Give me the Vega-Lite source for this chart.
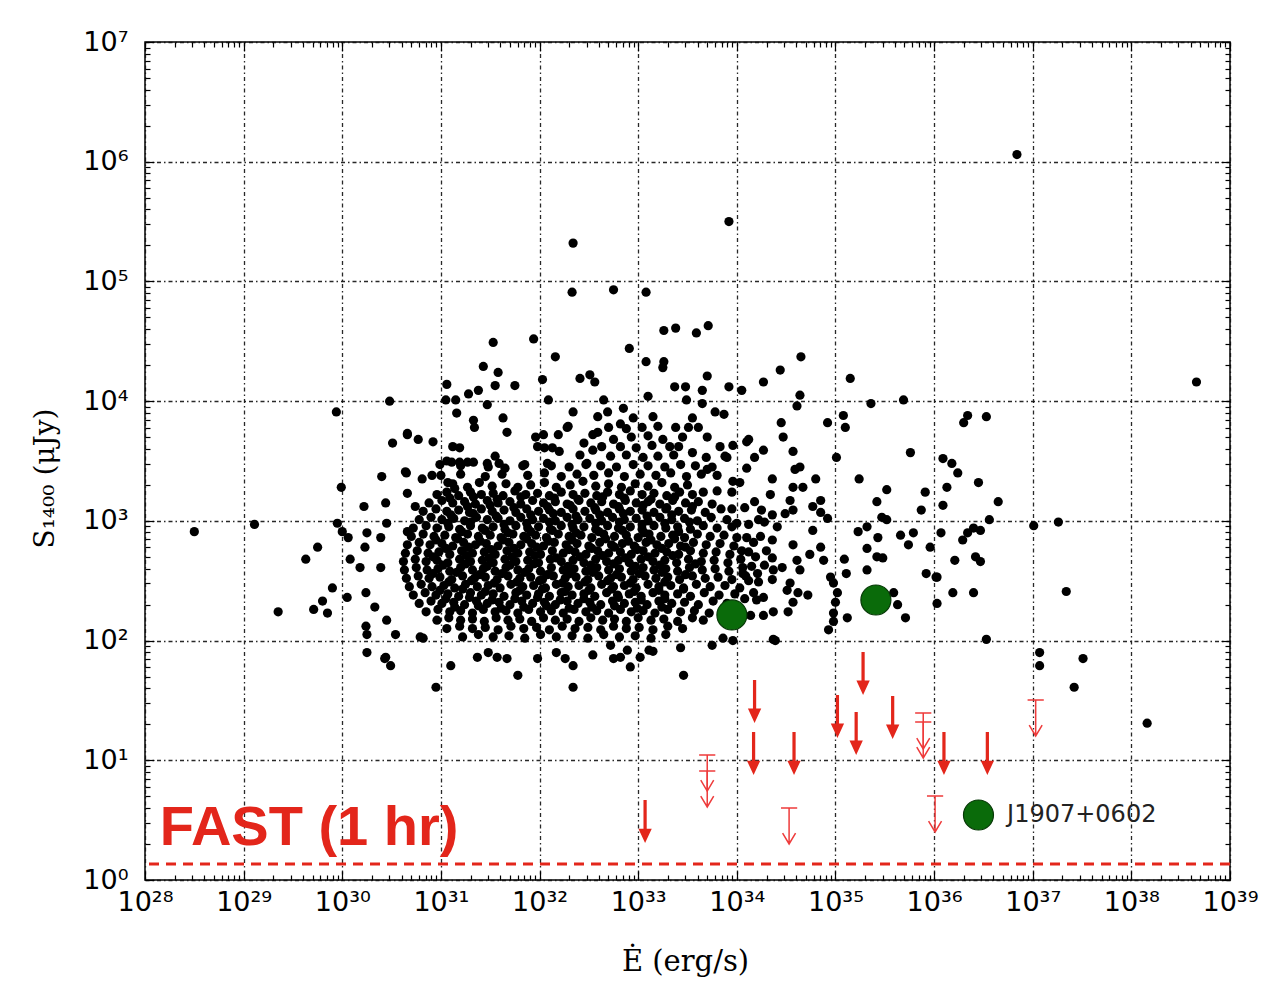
{
"$schema":"https://vega.github.io/schema/vega-lite/v6.json",
"width":1085,"height":838,
"autosize":{"type":"none"},
"padding":{"left":145,"top":42,"right":58,"bottom":108},
"background":"#ffffff",
"config":{"view":{"stroke":"#000000","strokeWidth":1.5},"axis":{"domain":false,"tickColor":"#000000","tickWidth":1.2}},
"datasets":{
"pulsars":[
{"E":31.12,"S":3.31},{"E":31.27,"S":3.28},{"E":31.39,"S":3.32},{"E":31.52,"S":3.29},{"E":31.66,"S":3.31},{"E":31.78,"S":3.28},{"E":31.91,"S":3.30},{"E":32.05,"S":3.32},{"E":32.17,"S":3.28},{"E":32.31,"S":3.30},{"E":32.44,"S":3.33},{"E":32.57,"S":3.29},{"E":32.70,"S":3.31},{"E":32.83,"S":3.28},{"E":32.97,"S":3.31},{"E":33.10,"S":3.29},{"E":33.24,"S":3.32},{"E":33.37,"S":3.28},{"E":33.50,"S":3.30},
{"E":30.96,"S":3.22},{"E":31.06,"S":3.24},{"E":31.18,"S":3.21},{"E":31.30,"S":3.24},{"E":31.41,"S":3.22},{"E":31.53,"S":3.23},{"E":31.63,"S":3.21},{"E":31.75,"S":3.25},{"E":31.86,"S":3.22},{"E":31.98,"S":3.23},{"E":32.10,"S":3.21},{"E":32.22,"S":3.24},{"E":32.34,"S":3.22},{"E":32.46,"S":3.23},{"E":32.58,"S":3.21},{"E":32.69,"S":3.24},{"E":32.81,"S":3.22},{"E":32.92,"S":3.25},{"E":33.04,"S":3.22},{"E":33.16,"S":3.23},{"E":33.29,"S":3.21},{"E":33.42,"S":3.24},{"E":33.55,"S":3.22},{"E":33.66,"S":3.24},
{"E":30.88,"S":3.15},{"E":31.01,"S":3.17},{"E":31.12,"S":3.15},{"E":31.24,"S":3.16},{"E":31.35,"S":3.14},{"E":31.47,"S":3.17},{"E":31.58,"S":3.15},{"E":31.70,"S":3.16},{"E":31.81,"S":3.14},{"E":31.93,"S":3.17},{"E":32.04,"S":3.15},{"E":32.16,"S":3.16},{"E":32.28,"S":3.14},{"E":32.40,"S":3.17},{"E":32.52,"S":3.15},{"E":32.63,"S":3.16},{"E":32.75,"S":3.14},{"E":32.87,"S":3.17},{"E":32.98,"S":3.15},{"E":33.10,"S":3.16},{"E":33.22,"S":3.14},{"E":33.35,"S":3.17},{"E":33.48,"S":3.15},{"E":33.61,"S":3.16},{"E":33.75,"S":3.14},
{"E":30.82,"S":3.08},{"E":30.95,"S":3.10},{"E":31.06,"S":3.08},{"E":31.18,"S":3.09},{"E":31.29,"S":3.07},{"E":31.41,"S":3.10},{"E":31.52,"S":3.08},{"E":31.64,"S":3.09},{"E":31.76,"S":3.07},{"E":31.87,"S":3.10},{"E":31.99,"S":3.08},{"E":32.10,"S":3.09},{"E":32.22,"S":3.07},{"E":32.34,"S":3.10},{"E":32.46,"S":3.08},{"E":32.57,"S":3.09},{"E":32.69,"S":3.07},{"E":32.81,"S":3.10},{"E":32.92,"S":3.08},{"E":33.04,"S":3.09},{"E":33.16,"S":3.07},{"E":33.28,"S":3.10},{"E":33.41,"S":3.08},{"E":33.54,"S":3.09},{"E":33.68,"S":3.07},{"E":33.84,"S":3.10},
{"E":30.78,"S":3.01},{"E":30.90,"S":3.03},{"E":31.01,"S":3.01},{"E":31.13,"S":3.02},{"E":31.24,"S":3.00},{"E":31.36,"S":3.03},{"E":31.47,"S":3.01},{"E":31.58,"S":3.02},{"E":31.70,"S":3.00},{"E":31.81,"S":3.03},{"E":31.93,"S":3.01},{"E":32.04,"S":3.02},{"E":32.16,"S":3.00},{"E":32.28,"S":3.03},{"E":32.39,"S":3.01},{"E":32.51,"S":3.02},{"E":32.63,"S":3.00},{"E":32.74,"S":3.03},{"E":32.86,"S":3.01},{"E":32.98,"S":3.02},{"E":33.10,"S":3.00},{"E":33.22,"S":3.03},{"E":33.34,"S":3.01},{"E":33.47,"S":3.02},{"E":33.60,"S":3.00},{"E":33.74,"S":3.03},{"E":33.90,"S":3.01},
{"E":30.72,"S":2.94},{"E":30.85,"S":2.96},{"E":30.96,"S":2.94},{"E":31.08,"S":2.95},{"E":31.19,"S":2.93},{"E":31.30,"S":2.96},{"E":31.42,"S":2.94},{"E":31.53,"S":2.95},{"E":31.65,"S":2.93},{"E":31.76,"S":2.96},{"E":31.88,"S":2.94},{"E":31.99,"S":2.95},{"E":32.11,"S":2.93},{"E":32.22,"S":2.96},{"E":32.34,"S":2.94},{"E":32.45,"S":2.95},{"E":32.57,"S":2.93},{"E":32.69,"S":2.96},{"E":32.80,"S":2.94},{"E":32.92,"S":2.95},{"E":33.04,"S":2.93},{"E":33.16,"S":2.96},{"E":33.28,"S":2.94},{"E":33.40,"S":2.95},{"E":33.53,"S":2.93},{"E":33.66,"S":2.96},{"E":33.80,"S":2.94},{"E":33.95,"S":2.95},
{"E":30.70,"S":2.87},{"E":30.82,"S":2.89},{"E":30.93,"S":2.87},{"E":31.04,"S":2.88},{"E":31.15,"S":2.86},{"E":31.27,"S":2.89},{"E":31.38,"S":2.87},{"E":31.50,"S":2.88},{"E":31.61,"S":2.86},{"E":31.73,"S":2.89},{"E":31.84,"S":2.87},{"E":31.96,"S":2.88},{"E":32.07,"S":2.86},{"E":32.19,"S":2.89},{"E":32.30,"S":2.87},{"E":32.42,"S":2.88},{"E":32.53,"S":2.86},{"E":32.65,"S":2.89},{"E":32.76,"S":2.87},{"E":32.88,"S":2.88},{"E":33.00,"S":2.86},{"E":33.11,"S":2.89},{"E":33.23,"S":2.87},{"E":33.35,"S":2.88},{"E":33.47,"S":2.86},{"E":33.60,"S":2.89},{"E":33.73,"S":2.87},{"E":33.87,"S":2.88},{"E":34.00,"S":2.86},
{"E":30.66,"S":2.80},{"E":30.78,"S":2.82},{"E":30.89,"S":2.80},{"E":31.01,"S":2.81},{"E":31.12,"S":2.79},{"E":31.23,"S":2.82},{"E":31.35,"S":2.80},{"E":31.46,"S":2.81},{"E":31.58,"S":2.79},{"E":31.69,"S":2.82},{"E":31.81,"S":2.80},{"E":31.92,"S":2.81},{"E":32.04,"S":2.79},{"E":32.15,"S":2.82},{"E":32.27,"S":2.80},{"E":32.38,"S":2.81},{"E":32.50,"S":2.79},{"E":32.61,"S":2.82},{"E":32.73,"S":2.80},{"E":32.84,"S":2.81},{"E":32.96,"S":2.79},{"E":33.08,"S":2.82},{"E":33.19,"S":2.80},{"E":33.31,"S":2.81},{"E":33.43,"S":2.79},{"E":33.56,"S":2.82},{"E":33.69,"S":2.80},{"E":33.83,"S":2.81},{"E":33.97,"S":2.79},
{"E":30.64,"S":2.73},{"E":30.76,"S":2.75},{"E":30.87,"S":2.73},{"E":30.98,"S":2.74},{"E":31.09,"S":2.72},{"E":31.21,"S":2.75},{"E":31.32,"S":2.73},{"E":31.44,"S":2.74},{"E":31.55,"S":2.72},{"E":31.67,"S":2.75},{"E":31.78,"S":2.73},{"E":31.90,"S":2.74},{"E":32.01,"S":2.72},{"E":32.13,"S":2.75},{"E":32.24,"S":2.73},{"E":32.36,"S":2.74},{"E":32.47,"S":2.72},{"E":32.59,"S":2.75},{"E":32.70,"S":2.73},{"E":32.82,"S":2.74},{"E":32.93,"S":2.72},{"E":33.05,"S":2.75},{"E":33.17,"S":2.73},{"E":33.29,"S":2.74},{"E":33.41,"S":2.72},{"E":33.53,"S":2.75},{"E":33.66,"S":2.73},{"E":33.79,"S":2.74},{"E":33.93,"S":2.72},{"E":34.05,"S":2.75},
{"E":30.62,"S":2.66},{"E":30.74,"S":2.68},{"E":30.85,"S":2.66},{"E":30.96,"S":2.67},{"E":31.07,"S":2.65},{"E":31.19,"S":2.68},{"E":31.30,"S":2.66},{"E":31.42,"S":2.67},{"E":31.53,"S":2.65},{"E":31.65,"S":2.68},{"E":31.76,"S":2.66},{"E":31.88,"S":2.67},{"E":31.99,"S":2.65},{"E":32.11,"S":2.68},{"E":32.22,"S":2.66},{"E":32.34,"S":2.67},{"E":32.45,"S":2.65},{"E":32.57,"S":2.68},{"E":32.68,"S":2.66},{"E":32.80,"S":2.67},{"E":32.91,"S":2.65},{"E":33.03,"S":2.68},{"E":33.15,"S":2.66},{"E":33.27,"S":2.67},{"E":33.39,"S":2.65},{"E":33.51,"S":2.68},{"E":33.64,"S":2.66},{"E":33.77,"S":2.67},{"E":33.91,"S":2.65},{"E":34.04,"S":2.68},
{"E":30.63,"S":2.59},{"E":30.75,"S":2.61},{"E":30.86,"S":2.59},{"E":30.97,"S":2.60},{"E":31.09,"S":2.58},{"E":31.20,"S":2.61},{"E":31.32,"S":2.59},{"E":31.43,"S":2.60},{"E":31.55,"S":2.58},{"E":31.66,"S":2.61},{"E":31.78,"S":2.59},{"E":31.89,"S":2.60},{"E":32.01,"S":2.58},{"E":32.12,"S":2.61},{"E":32.24,"S":2.59},{"E":32.35,"S":2.60},{"E":32.47,"S":2.58},{"E":32.58,"S":2.61},{"E":32.70,"S":2.59},{"E":32.81,"S":2.60},{"E":32.93,"S":2.58},{"E":33.05,"S":2.61},{"E":33.16,"S":2.59},{"E":33.28,"S":2.60},{"E":33.40,"S":2.58},{"E":33.52,"S":2.61},{"E":33.65,"S":2.59},{"E":33.78,"S":2.60},{"E":33.92,"S":2.58},{"E":34.06,"S":2.61},
{"E":30.65,"S":2.52},{"E":30.77,"S":2.54},{"E":30.88,"S":2.52},{"E":30.99,"S":2.53},{"E":31.11,"S":2.51},{"E":31.22,"S":2.54},{"E":31.34,"S":2.52},{"E":31.45,"S":2.53},{"E":31.57,"S":2.51},{"E":31.68,"S":2.54},{"E":31.80,"S":2.52},{"E":31.91,"S":2.53},{"E":32.03,"S":2.51},{"E":32.14,"S":2.54},{"E":32.26,"S":2.52},{"E":32.37,"S":2.53},{"E":32.49,"S":2.51},{"E":32.60,"S":2.54},{"E":32.72,"S":2.52},{"E":32.83,"S":2.53},{"E":32.95,"S":2.51},{"E":33.07,"S":2.54},{"E":33.18,"S":2.52},{"E":33.30,"S":2.53},{"E":33.42,"S":2.51},{"E":33.55,"S":2.54},{"E":33.68,"S":2.52},{"E":33.81,"S":2.53},{"E":33.95,"S":2.51},{"E":34.09,"S":2.54},
{"E":30.68,"S":2.45},{"E":30.80,"S":2.47},{"E":30.91,"S":2.45},{"E":31.03,"S":2.46},{"E":31.14,"S":2.44},{"E":31.25,"S":2.47},{"E":31.37,"S":2.45},{"E":31.48,"S":2.46},{"E":31.60,"S":2.44},{"E":31.71,"S":2.47},{"E":31.83,"S":2.45},{"E":31.94,"S":2.46},{"E":32.06,"S":2.44},{"E":32.17,"S":2.47},{"E":32.29,"S":2.45},{"E":32.40,"S":2.46},{"E":32.52,"S":2.44},{"E":32.63,"S":2.47},{"E":32.75,"S":2.45},{"E":32.86,"S":2.46},{"E":32.98,"S":2.44},{"E":33.10,"S":2.47},{"E":33.21,"S":2.45},{"E":33.33,"S":2.46},{"E":33.46,"S":2.44},{"E":33.59,"S":2.47},{"E":33.73,"S":2.45},{"E":33.88,"S":2.46},{"E":34.03,"S":2.44},
{"E":30.72,"S":2.38},{"E":30.84,"S":2.40},{"E":30.95,"S":2.38},{"E":31.07,"S":2.39},{"E":31.18,"S":2.37},{"E":31.30,"S":2.40},{"E":31.41,"S":2.38},{"E":31.53,"S":2.39},{"E":31.64,"S":2.37},{"E":31.76,"S":2.40},{"E":31.87,"S":2.38},{"E":31.99,"S":2.39},{"E":32.10,"S":2.37},{"E":32.22,"S":2.40},{"E":32.33,"S":2.38},{"E":32.45,"S":2.39},{"E":32.56,"S":2.37},{"E":32.68,"S":2.40},{"E":32.79,"S":2.38},{"E":32.91,"S":2.39},{"E":33.03,"S":2.37},{"E":33.15,"S":2.40},{"E":33.27,"S":2.38},{"E":33.40,"S":2.39},{"E":33.53,"S":2.37},{"E":33.67,"S":2.40},{"E":33.82,"S":2.38},{"E":33.98,"S":2.39},
{"E":30.78,"S":2.31},{"E":30.90,"S":2.33},{"E":31.01,"S":2.31},{"E":31.13,"S":2.32},{"E":31.24,"S":2.30},{"E":31.36,"S":2.33},{"E":31.47,"S":2.31},{"E":31.59,"S":2.32},{"E":31.70,"S":2.30},{"E":31.82,"S":2.33},{"E":31.93,"S":2.31},{"E":32.05,"S":2.32},{"E":32.16,"S":2.30},{"E":32.28,"S":2.33},{"E":32.39,"S":2.31},{"E":32.51,"S":2.32},{"E":32.62,"S":2.30},{"E":32.74,"S":2.33},{"E":32.86,"S":2.31},{"E":32.97,"S":2.32},{"E":33.09,"S":2.30},{"E":33.21,"S":2.33},{"E":33.34,"S":2.31},{"E":33.47,"S":2.32},{"E":33.61,"S":2.30},{"E":33.76,"S":2.33},{"E":33.90,"S":2.31},
{"E":30.85,"S":2.24},{"E":30.97,"S":2.26},{"E":31.09,"S":2.24},{"E":31.20,"S":2.25},{"E":31.32,"S":2.23},{"E":31.43,"S":2.26},{"E":31.55,"S":2.24},{"E":31.66,"S":2.25},{"E":31.78,"S":2.23},{"E":31.89,"S":2.26},{"E":32.01,"S":2.24},{"E":32.12,"S":2.25},{"E":32.24,"S":2.23},{"E":32.35,"S":2.26},{"E":32.47,"S":2.24},{"E":32.58,"S":2.25},{"E":32.70,"S":2.23},{"E":32.82,"S":2.26},{"E":32.93,"S":2.24},{"E":33.05,"S":2.25},{"E":33.17,"S":2.23},{"E":33.30,"S":2.26},{"E":33.43,"S":2.24},{"E":33.57,"S":2.25},{"E":33.72,"S":2.23},
{"E":30.96,"S":2.17},{"E":31.08,"S":2.19},{"E":31.20,"S":2.17},{"E":31.32,"S":2.18},{"E":31.44,"S":2.16},{"E":31.56,"S":2.19},{"E":31.68,"S":2.17},{"E":31.80,"S":2.18},{"E":31.92,"S":2.16},{"E":32.04,"S":2.19},{"E":32.16,"S":2.17},{"E":32.28,"S":2.18},{"E":32.40,"S":2.16},{"E":32.52,"S":2.19},{"E":32.64,"S":2.17},{"E":32.76,"S":2.18},{"E":32.88,"S":2.16},{"E":33.00,"S":2.19},{"E":33.13,"S":2.17},{"E":33.26,"S":2.18},{"E":33.40,"S":2.16},{"E":33.55,"S":2.19},{"E":33.66,"S":2.17},
{"E":31.06,"S":2.10},{"E":31.19,"S":2.12},{"E":31.32,"S":2.10},{"E":31.45,"S":2.11},{"E":31.58,"S":2.09},{"E":31.71,"S":2.12},{"E":31.84,"S":2.10},{"E":31.97,"S":2.11},{"E":32.10,"S":2.09},{"E":32.23,"S":2.12},{"E":32.36,"S":2.10},{"E":32.49,"S":2.11},{"E":32.62,"S":2.09},{"E":32.75,"S":2.12},{"E":32.88,"S":2.10},{"E":33.01,"S":2.11},{"E":33.15,"S":2.09},{"E":33.30,"S":2.12},{"E":33.45,"S":2.10},
{"E":31.22,"S":2.03},{"E":31.38,"S":2.05},{"E":31.53,"S":2.03},{"E":31.69,"S":2.04},{"E":31.85,"S":2.02},{"E":32.01,"S":2.05},{"E":32.17,"S":2.03},{"E":32.33,"S":2.04},{"E":32.49,"S":2.02},{"E":32.65,"S":2.05},{"E":32.81,"S":2.03},{"E":32.97,"S":2.04},{"E":33.13,"S":2.02},{"E":33.28,"S":2.05},
{"E":31.09,"S":3.19},{"E":31.33,"S":3.20},{"E":31.57,"S":3.18},{"E":31.81,"S":3.20},{"E":32.15,"S":3.19},{"E":32.39,"S":3.18},{"E":32.64,"S":3.20},{"E":32.86,"S":3.19},{"E":33.13,"S":3.18},{"E":33.37,"S":3.20},
{"E":31.27,"S":3.12},{"E":31.50,"S":3.13},{"E":31.74,"S":3.11},{"E":32.08,"S":3.12},{"E":32.31,"S":3.13},{"E":32.56,"S":3.11},{"E":32.80,"S":3.12},{"E":33.05,"S":3.13},{"E":33.29,"S":3.11},{"E":33.55,"S":3.12},
{"E":31.10,"S":3.05},{"E":31.33,"S":3.06},{"E":31.56,"S":3.04},{"E":31.91,"S":3.05},{"E":32.14,"S":3.06},{"E":32.37,"S":3.04},{"E":32.61,"S":3.05},{"E":32.85,"S":3.06},{"E":33.09,"S":3.04},{"E":33.34,"S":3.05},
{"E":31.07,"S":2.98},{"E":31.30,"S":2.99},{"E":31.64,"S":2.97},{"E":31.87,"S":2.98},{"E":32.10,"S":2.99},{"E":32.33,"S":2.97},{"E":32.57,"S":2.98},{"E":32.81,"S":2.99},{"E":33.04,"S":2.97},{"E":33.27,"S":2.98},{"E":33.52,"S":2.99},
{"E":31.21,"S":2.91},{"E":31.45,"S":2.92},{"E":31.68,"S":2.90},{"E":31.91,"S":2.91},{"E":32.13,"S":2.92},{"E":32.37,"S":2.90},{"E":32.60,"S":2.91},{"E":32.84,"S":2.92},{"E":33.06,"S":2.90},{"E":33.41,"S":2.91},
{"E":30.95,"S":2.84},{"E":31.17,"S":2.85},{"E":31.40,"S":2.83},{"E":31.63,"S":2.84},{"E":31.87,"S":2.85},{"E":32.09,"S":2.83},{"E":32.33,"S":2.84},{"E":32.67,"S":2.85},{"E":32.90,"S":2.83},{"E":33.13,"S":2.84},{"E":33.37,"S":2.85},
{"E":31.05,"S":2.77},{"E":31.28,"S":2.78},{"E":31.51,"S":2.76},{"E":31.74,"S":2.77},{"E":31.97,"S":2.78},{"E":32.30,"S":2.76},{"E":32.53,"S":2.77},{"E":32.76,"S":2.78},{"E":32.99,"S":2.76},{"E":33.24,"S":2.77},{"E":33.48,"S":2.78},
{"E":30.92,"S":2.70},{"E":31.26,"S":2.71},{"E":31.49,"S":2.69},{"E":31.72,"S":2.70},{"E":31.95,"S":2.71},{"E":32.17,"S":2.69},{"E":32.41,"S":2.70},{"E":32.64,"S":2.71},{"E":32.87,"S":2.69},{"E":33.10,"S":2.70},{"E":33.35,"S":2.71},
{"E":31.02,"S":2.63},{"E":31.25,"S":2.64},{"E":31.47,"S":2.62},{"E":31.70,"S":2.63},{"E":31.94,"S":2.64},{"E":32.29,"S":2.62},{"E":32.52,"S":2.63},{"E":32.75,"S":2.64},{"E":32.97,"S":2.62},{"E":33.22,"S":2.63},{"E":33.58,"S":2.64},
{"E":30.92,"S":2.56},{"E":31.16,"S":2.57},{"E":31.39,"S":2.55},{"E":31.62,"S":2.56},{"E":31.85,"S":2.57},{"E":32.08,"S":2.55},{"E":32.31,"S":2.56},{"E":32.54,"S":2.57},{"E":32.78,"S":2.55},{"E":33.01,"S":2.56},{"E":33.24,"S":2.57},{"E":33.48,"S":2.55},
{"E":31.08,"S":2.49},{"E":31.31,"S":2.50},{"E":31.54,"S":2.48},{"E":31.77,"S":2.49},{"E":32.00,"S":2.50},{"E":32.23,"S":2.48},{"E":32.46,"S":2.49},{"E":32.69,"S":2.50},{"E":32.92,"S":2.48},{"E":33.27,"S":2.49},
{"E":30.99,"S":2.42},{"E":31.22,"S":2.43},{"E":31.45,"S":2.41},{"E":31.80,"S":2.42},{"E":32.03,"S":2.43},{"E":32.26,"S":2.41},{"E":32.50,"S":2.42},{"E":32.73,"S":2.43},{"E":32.96,"S":2.41},{"E":33.21,"S":2.42},{"E":33.46,"S":2.43},
{"E":31.05,"S":2.35},{"E":31.29,"S":2.36},{"E":31.52,"S":2.34},{"E":31.75,"S":2.35},{"E":31.98,"S":2.36},{"E":32.21,"S":2.34},{"E":32.45,"S":2.35},{"E":32.80,"S":2.36},{"E":33.03,"S":2.34},{"E":33.27,"S":2.35},
{"E":31.14,"S":2.28},{"E":31.38,"S":2.29},{"E":31.61,"S":2.27},{"E":31.84,"S":2.28},{"E":32.07,"S":2.29},{"E":32.30,"S":2.27},{"E":32.53,"S":2.28},{"E":32.76,"S":2.29},{"E":32.99,"S":2.27},{"E":33.24,"S":2.28},
{"E":28.50,"S":2.91},{"E":29.11,"S":2.97},{"E":29.35,"S":2.24},{"E":29.63,"S":2.68},{"E":29.75,"S":2.78},{"E":29.71,"S":2.26},{"E":29.80,"S":2.33},{"E":29.85,"S":2.23},{"E":29.90,"S":2.44},{"E":29.94,"S":3.91},{"E":29.99,"S":3.28},{"E":29.95,"S":2.98},{"E":30.00,"S":2.91},{"E":30.06,"S":2.86},{"E":30.08,"S":2.68},{"E":30.05,"S":2.36},{"E":30.18,"S":2.61},{"E":30.22,"S":3.12},{"E":30.25,"S":2.90},{"E":30.23,"S":2.78},{"E":30.24,"S":2.40},{"E":30.24,"S":2.12},{"E":30.25,"S":2.05},{"E":30.25,"S":1.90},{"E":30.44,"S":1.86},{"E":30.49,"S":1.79},{"E":30.48,"S":4.00},{"E":30.51,"S":3.65},{"E":30.40,"S":3.37},{"E":30.44,"S":3.15},{"E":30.45,"S":2.98},{"E":30.39,"S":2.86},{"E":30.39,"S":2.61},{"E":30.33,"S":2.28},{"E":30.45,"S":2.17},{"E":30.66,"S":3.73},{"E":30.77,"S":3.68},{"E":30.92,"S":3.66},{"E":30.65,"S":3.40},{"E":30.81,"S":3.35},{"E":30.91,"S":3.38},{"E":30.66,"S":3.23},{"E":30.74,"S":3.12},{"E":30.66,"S":2.91},{"E":30.95,"S":1.61},{"E":31.10,"S":1.79},{"E":31.06,"S":4.14},{"E":31.05,"S":4.01},{"E":31.15,"S":4.01},{"E":31.16,"S":3.90},{"E":31.28,"S":4.06},{"E":31.38,"S":4.09},{"E":31.43,"S":4.29},{"E":31.58,"S":4.24},{"E":31.55,"S":4.13},{"E":31.47,"S":3.97},{"E":31.75,"S":4.13},{"E":31.33,"S":3.84},{"E":31.34,"S":3.78},{"E":31.63,"S":3.86},{"E":31.67,"S":3.74},{"E":31.12,"S":3.62},{"E":31.19,"S":3.61},{"E":31.37,"S":1.86},{"E":31.48,"S":1.90},{"E":31.57,"S":1.86},{"E":31.67,"S":1.85},{"E":31.78,"S":1.71},{"E":31.98,"S":1.85},{"E":32.34,"S":1.79},{"E":32.34,"S":1.61},{"E":32.16,"S":4.37},{"E":32.03,"S":4.18},{"E":32.09,"S":4.01},{"E":32.41,"S":4.19},{"E":32.51,"S":4.22},{"E":32.56,"S":4.16},{"E":32.34,"S":3.91},{"E":32.28,"S":3.78},{"E":32.65,"S":4.01},{"E":32.69,"S":3.91},{"E":32.59,"S":3.87},{"E":32.85,"S":3.94},{"E":32.82,"S":3.81},{"E":32.54,"S":1.88},{"E":32.72,"S":1.96},{"E":32.82,"S":1.86},{"E":32.92,"S":1.78},{"E":32.89,"S":1.92},
{"E":32.34,"S":5.32},{"E":33.92,"S":5.50},{"E":32.33,"S":4.91},{"E":32.75,"S":4.93},{"E":33.08,"S":4.91},{"E":31.53,"S":4.49},{"E":31.94,"S":4.52},{"E":32.91,"S":4.44},{"E":33.26,"S":4.59},{"E":33.38,"S":4.61},{"E":33.59,"S":4.57},{"E":33.71,"S":4.63},{"E":33.08,"S":4.33},{"E":33.26,"S":4.33},{"E":33.25,"S":4.28},{"E":34.65,"S":4.37},{"E":34.44,"S":4.26},
{"E":34.27,"S":4.16},{"E":34.64,"S":4.05},{"E":34.61,"S":3.96},{"E":34.45,"S":3.82},{"E":34.47,"S":3.70},{"E":34.57,"S":3.58},{"E":34.64,"S":3.45},{"E":34.59,"S":3.43},{"E":34.36,"S":3.35},{"E":34.80,"S":3.35},{"E":34.67,"S":3.28},{"E":34.57,"S":3.28},{"E":34.18,"S":3.53},{"E":34.27,"S":3.59},{"E":34.12,"S":3.68},{"E":34.10,"S":3.44},{"E":34.03,"S":3.32},{"E":33.96,"S":3.33},{"E":34.18,"S":3.16},{"E":34.34,"S":3.22},{"E":34.54,"S":3.17},{"E":34.57,"S":3.09},{"E":34.77,"S":3.12},{"E":34.85,"S":3.17},{"E":34.85,"S":3.07},{"E":34.92,"S":3.02},{"E":34.49,"S":3.06},{"E":34.36,"S":3.05},{"E":34.22,"S":3.01},{"E":34.41,"S":2.95},{"E":34.77,"S":2.92},{"E":34.57,"S":2.80},{"E":34.36,"S":2.84},{"E":34.17,"S":2.82},{"E":34.19,"S":2.70},{"E":34.36,"S":2.69},{"E":34.61,"S":2.67},{"E":34.74,"S":2.72},{"E":34.85,"S":2.78},{"E":34.88,"S":2.67},{"E":34.95,"S":2.53},{"E":34.98,"S":2.48},{"E":35.02,"S":2.40},{"E":35.00,"S":2.32},{"E":34.98,"S":2.23},{"E":34.93,"S":2.09},{"E":34.98,"S":2.16},{"E":34.72,"S":2.38},{"E":34.62,"S":2.40},{"E":34.54,"S":2.48},{"E":34.51,"S":2.42},{"E":34.57,"S":2.32},{"E":34.52,"S":2.24},{"E":34.64,"S":2.59},{"E":34.37,"S":2.59},{"E":34.27,"S":2.36},{"E":34.37,"S":2.24},{"E":34.27,"S":2.21},{"E":34.14,"S":2.21},{"E":34.37,"S":2.01},{"E":34.17,"S":2.40},{"E":34.06,"S":2.56},{"E":34.21,"S":2.56},{"E":34.46,"S":2.61},
{"E":35.15,"S":4.19},{"E":35.08,"S":3.88},{"E":35.10,"S":3.78},{"E":34.92,"S":3.82},{"E":35.01,"S":3.53},{"E":35.36,"S":3.98},{"E":35.69,"S":4.01},{"E":35.24,"S":3.35},{"E":35.52,"S":3.26},{"E":35.42,"S":3.16},{"E":35.76,"S":3.57},{"E":35.91,"S":3.24},{"E":35.87,"S":3.09},{"E":35.47,"S":3.03},{"E":35.52,"S":3.01},{"E":35.23,"S":2.91},{"E":35.32,"S":2.95},{"E":35.43,"S":2.86},{"E":35.66,"S":2.88},{"E":35.79,"S":2.90},{"E":35.74,"S":2.80},{"E":35.96,"S":2.78},{"E":35.32,"S":2.77},{"E":35.42,"S":2.70},{"E":35.48,"S":2.69},{"E":35.09,"S":2.68},{"E":35.11,"S":2.56},{"E":35.32,"S":2.59},{"E":35.92,"S":2.56},{"E":36.03,"S":2.53},{"E":35.59,"S":2.40},{"E":35.63,"S":2.30},{"E":35.71,"S":2.19},{"E":35.12,"S":2.19},{"E":36.03,"S":2.31},
{"E":36.34,"S":3.88},{"E":36.30,"S":3.82},{"E":36.53,"S":3.87},{"E":36.09,"S":3.52},{"E":36.18,"S":3.48},{"E":36.24,"S":3.40},{"E":36.45,"S":3.32},{"E":36.13,"S":3.28},{"E":36.65,"S":3.16},{"E":36.09,"S":3.13},{"E":36.56,"S":3.01},{"E":36.40,"S":2.94},{"E":36.47,"S":2.92},{"E":36.34,"S":2.90},{"E":36.07,"S":2.90},{"E":36.29,"S":2.84},{"E":37.01,"S":2.96},{"E":36.42,"S":2.70},{"E":36.47,"S":2.66},{"E":36.21,"S":2.67},{"E":36.19,"S":2.40},{"E":36.40,"S":2.40},{"E":36.02,"S":2.53},{"E":36.53,"S":2.01},{"E":37.07,"S":1.90},{"E":37.07,"S":1.79},
{"E":36.84,"S":6.06},{"E":38.66,"S":4.16},{"E":38.16,"S":1.31},{"E":37.26,"S":2.99},{"E":37.34,"S":2.41},{"E":37.51,"S":1.85},{"E":37.42,"S":1.61},
{"E":33.70,"S":4.21},{"E":33.37,"S":4.12},{"E":33.48,"S":4.12},{"E":33.10,"S":4.04},{"E":33.65,"S":4.09},{"E":33.92,"S":4.12},{"E":34.05,"S":4.09},{"E":33.49,"S":4.01},{"E":33.65,"S":3.98},{"E":33.78,"S":3.91},{"E":33.87,"S":3.89},{"E":33.04,"S":3.78},{"E":33.38,"S":3.78},{"E":33.51,"S":3.78},{"E":33.61,"S":3.78},{"E":33.70,"S":3.70},{"E":33.25,"S":3.68},{"E":33.41,"S":3.62},{"E":33.55,"S":3.57},{"E":33.69,"S":3.53},{"E":33.70,"S":3.43},{"E":33.83,"S":3.62},{"E":33.96,"S":3.63},{"E":33.90,"S":3.53},{"E":34.10,"S":3.66},
{"E":30.43,"S":1.85},{"E":30.54,"S":2.05},{"E":30.79,"S":2.03},{"E":30.82,"S":2.02},{"E":32.17,"S":1.90},{"E":32.26,"S":1.85},{"E":32.75,"S":1.85},{"E":33.02,"S":1.86},{"E":33.11,"S":1.92},{"E":33.15,"S":1.91},{"E":33.43,"S":1.94},{"E":33.46,"S":1.71},{"E":33.75,"S":1.96},{"E":33.86,"S":2.02},{"E":33.96,"S":2.00},{"E":34.39,"S":2.00},
{"E":30.66,"S":3.72},{"E":31.06,"S":3.50},{"E":31.11,"S":3.49},{"E":31.19,"S":3.49},{"E":31.27,"S":3.49},{"E":31.33,"S":3.49},{"E":31.47,"S":3.48},{"E":31.59,"S":3.48},{"E":31.65,"S":3.44},{"E":31.83,"S":3.46},{"E":31.96,"S":3.70},{"E":32.04,"S":3.72},{"E":31.98,"S":3.62},{"E":32.05,"S":3.61},{"E":32.13,"S":3.61},{"E":32.20,"S":3.58},{"E":32.08,"S":3.48},{"E":32.19,"S":3.72},{"E":32.29,"S":3.79},{"E":32.59,"S":3.74},{"E":32.54,"S":3.72},{"E":32.45,"S":3.65},{"E":32.41,"S":3.55},{"E":32.48,"S":3.48},{"E":32.54,"S":3.59},{"E":32.63,"S":3.62},{"E":32.75,"S":3.68},{"E":30.64,"S":3.41},{"E":30.99,"S":3.47},{"E":31.07,"S":3.32},{"E":31.14,"S":3.27},
{"E":31.00,"S":3.38},{"E":31.20,"S":3.39},{"E":31.45,"S":3.37},{"E":31.62,"S":3.39},{"E":31.88,"S":3.38},{"E":32.05,"S":3.40},{"E":32.22,"S":3.37},{"E":32.38,"S":3.39},{"E":32.55,"S":3.38},{"E":32.70,"S":3.40},{"E":32.86,"S":3.37},{"E":33.02,"S":3.39},{"E":33.18,"S":3.38},{"E":33.33,"S":3.40},{"E":33.49,"S":3.37},{"E":33.64,"S":3.39},{"E":33.80,"S":3.38},
{"E":31.20,"S":3.46},{"E":31.48,"S":3.45},{"E":31.85,"S":3.47},{"E":32.12,"S":3.46},{"E":32.30,"S":3.45},{"E":32.47,"S":3.47},{"E":32.62,"S":3.46},{"E":32.78,"S":3.45},{"E":32.95,"S":3.47},{"E":33.10,"S":3.46},{"E":33.27,"S":3.45},{"E":33.43,"S":3.47},{"E":33.58,"S":3.46},{"E":33.75,"S":3.45},
{"E":31.55,"S":3.54},{"E":32.72,"S":3.54},{"E":32.88,"S":3.55},{"E":33.05,"S":3.53},{"E":33.20,"S":3.54},{"E":33.36,"S":3.55},{"E":33.88,"S":3.54},
{"E":32.82,"S":3.62},{"E":32.98,"S":3.61},{"E":33.14,"S":3.63},{"E":33.32,"S":3.62},{"E":32.93,"S":3.70},{"E":33.10,"S":3.71},{"E":33.45,"S":3.70},{"E":32.70,"S":3.78},{"E":32.88,"S":3.77},{"E":33.20,"S":3.79},{"E":32.95,"S":3.86},{"E":33.15,"S":3.87},{"E":33.55,"S":3.86},
{"E":33.80,"S":3.25},{"E":33.95,"S":3.24},{"E":33.95,"S":3.10},{"E":34.08,"S":3.11},{"E":34.25,"S":3.09},{"E":34.00,"S":2.98},{"E":34.12,"S":2.97},{"E":34.28,"S":2.99},{"E":34.10,"S":2.86},{"E":34.24,"S":2.87},{"E":34.12,"S":2.74},{"E":34.30,"S":2.75},{"E":34.15,"S":2.62},{"E":34.28,"S":2.63},{"E":34.12,"S":2.50},{"E":34.22,"S":2.49},{"E":34.36,"S":2.51},{"E":34.08,"S":2.35},{"E":34.20,"S":2.34},{"E":33.95,"S":2.20},{"E":34.05,"S":2.19}
],
"detected":[{"E":33.95,"S":2.214},{"E":35.41,"S":2.339}],
"solidLimits":[{"E":33.07,"S":0.668},{"E":34.18,"S":1.671},{"E":34.17,"S":1.236},{"E":34.58,"S":1.236},{"E":35.02,"S":1.546},{"E":35.28,"S":1.905},{"E":35.21,"S":1.404},{"E":35.58,"S":1.537},{"E":36.10,"S":1.236},{"E":36.54,"S":1.236}],
"openLimits":[{"E":33.70,"S":1.044},{"E":33.70,"S":0.911},{"E":34.53,"S":0.602},{"E":35.89,"S":1.395},{"E":35.89,"S":1.32},{"E":36.01,"S":0.702},{"E":37.03,"S":1.504}],
"fast":[{"S":0.134}],
"legendItem":[{"name":"J1907+0602"}],
"label":[{"name":"FAST (1 hr)"}]
},
"layer":[
{"data":{"name":"pulsars"},
 "mark":{"type":"circle","size":85,"color":"#000000","opacity":1},
 "encoding":{
  "x":{"field":"E","type":"quantitative","scale":{"domain":[28,39],"nice":false,"zero":false},
   "axis":{"orient":"bottom","values":[28,28.301,28.477,28.602,28.699,28.778,28.845,28.903,28.954,29,29.301,29.477,29.602,29.699,29.778,29.845,29.903,29.954,30,30.301,30.477,30.602,30.699,30.778,30.845,30.903,30.954,31,31.301,31.477,31.602,31.699,31.778,31.845,31.903,31.954,32,32.301,32.477,32.602,32.699,32.778,32.845,32.903,32.954,33,33.301,33.477,33.602,33.699,33.778,33.845,33.903,33.954,34,34.301,34.477,34.602,34.699,34.778,34.845,34.903,34.954,35,35.301,35.477,35.602,35.699,35.778,35.845,35.903,35.954,36,36.301,36.477,36.602,36.699,36.778,36.845,36.903,36.954,37,37.301,37.477,37.602,37.699,37.778,37.845,37.903,37.954,38,38.301,38.477,38.602,38.699,38.778,38.845,38.903,38.954,39],
    "labelExpr":"abs(datum.value-round(datum.value))<0.01 ? '10'+(round(datum.value)>=10 ? substring('⁰¹²³⁴⁵⁶⁷⁸⁹',floor(round(datum.value)/10),floor(round(datum.value)/10)+1) : '')+substring('⁰¹²³⁴⁵⁶⁷⁸⁹',round(datum.value)%10,round(datum.value)%10+1) : ''",
    "labelFont":"DejaVu Sans","labelFontSize":27,"labelColor":"#000000","labelPadding":18,"labelOverlap":false,"labelBound":false,"labelFlush":false,
    "tickSize":{"condition":{"test":"abs(datum.value-round(datum.value))<0.01","value":-9},"value":-5},
    "grid":true,"gridColor":"#111111","gridDash":[4,3,1.5,3],"gridWidth":1.3,
    "gridOpacity":{"condition":{"test":"abs(datum.value-round(datum.value))<0.01","value":0.9},"value":0},
    "title":"Ė  (erg/s)","titleFont":"DejaVu Serif","titleFontSize":29,"titleFontWeight":"normal","titleColor":"#000000",
    "titleX":540,"titleY":90,"titleAlign":"center","titleBaseline":"alphabetic"}},
  "y":{"field":"S","type":"quantitative","scale":{"domain":[0,7],"nice":false,"zero":false},
   "axis":{"orient":"left","values":[0,0.301,0.477,0.602,0.699,0.778,0.845,0.903,0.954,1,1.301,1.477,1.602,1.699,1.778,1.845,1.903,1.954,2,2.301,2.477,2.602,2.699,2.778,2.845,2.903,2.954,3,3.301,3.477,3.602,3.699,3.778,3.845,3.903,3.954,4,4.301,4.477,4.602,4.699,4.778,4.845,4.903,4.954,5,5.301,5.477,5.602,5.699,5.778,5.845,5.903,5.954,6,6.301,6.477,6.602,6.699,6.778,6.845,6.903,6.954,7],
    "labelExpr":"abs(datum.value-round(datum.value))<0.01 ? '10'+substring('⁰¹²³⁴⁵⁶⁷⁸⁹',round(datum.value)%10,round(datum.value)%10+1) : ''",
    "labelFont":"DejaVu Sans","labelFontSize":27,"labelColor":"#000000","labelPadding":26,"labelOverlap":false,"labelBound":false,"labelFlush":false,
    "tickSize":{"condition":{"test":"abs(datum.value-round(datum.value))<0.01","value":-9},"value":-5},
    "grid":true,"gridColor":"#111111","gridDash":[4,3,1.5,3],"gridWidth":1.3,
    "gridOpacity":{"condition":{"test":"abs(datum.value-round(datum.value))<0.01","value":0.9},"value":0},
    "title":"S₁₄₀₀  (μJy)","titleFont":"DejaVu Serif","titleFontSize":28,"titleFontWeight":"normal","titleColor":"#000000",
    "titleAngle":270,"titleX":-100,"titleY":436,"titleAlign":"center","titleBaseline":"middle"}}
 }},
{"data":{"name":"solidLimits"},
 "mark":{"type":"point","shape":"M-0.075,0L0.075,0L0.075,1.33L0.31,1.33L0,2L-0.31,1.33L-0.075,1.33Z","size":1849,"filled":true,"color":"#e3261b","opacity":1},
 "encoding":{
  "x":{"field":"E","type":"quantitative","scale":{"domain":[28,39],"nice":false,"zero":false},
   "axis":{"orient":"top","values":[28,28.301,28.477,28.602,28.699,28.778,28.845,28.903,28.954,29,29.301,29.477,29.602,29.699,29.778,29.845,29.903,29.954,30,30.301,30.477,30.602,30.699,30.778,30.845,30.903,30.954,31,31.301,31.477,31.602,31.699,31.778,31.845,31.903,31.954,32,32.301,32.477,32.602,32.699,32.778,32.845,32.903,32.954,33,33.301,33.477,33.602,33.699,33.778,33.845,33.903,33.954,34,34.301,34.477,34.602,34.699,34.778,34.845,34.903,34.954,35,35.301,35.477,35.602,35.699,35.778,35.845,35.903,35.954,36,36.301,36.477,36.602,36.699,36.778,36.845,36.903,36.954,37,37.301,37.477,37.602,37.699,37.778,37.845,37.903,37.954,38,38.301,38.477,38.602,38.699,38.778,38.845,38.903,38.954,39],
    "labels":false,"grid":false,"title":null,
    "tickSize":{"condition":{"test":"abs(datum.value-round(datum.value))<0.01","value":-9},"value":-5}}},
  "y":{"field":"S","type":"quantitative","scale":{"domain":[0,7],"nice":false,"zero":false},
   "axis":{"orient":"right","values":[0,0.301,0.477,0.602,0.699,0.778,0.845,0.903,0.954,1,1.301,1.477,1.602,1.699,1.778,1.845,1.903,1.954,2,2.301,2.477,2.602,2.699,2.778,2.845,2.903,2.954,3,3.301,3.477,3.602,3.699,3.778,3.845,3.903,3.954,4,4.301,4.477,4.602,4.699,4.778,4.845,4.903,4.954,5,5.301,5.477,5.602,5.699,5.778,5.845,5.903,5.954,6,6.301,6.477,6.602,6.699,6.778,6.845,6.903,6.954,7],
    "labels":false,"grid":false,"title":null,
    "tickSize":{"condition":{"test":"abs(datum.value-round(datum.value))<0.01","value":-9},"value":-5}}}
 }},
{"data":{"name":"openLimits"},
 "mark":{"type":"point","shape":"M-0.45,0L0.45,0M0,0L0,2M-0.36,1.4L0,2L0.36,1.4","size":1296,"filled":false,"stroke":"#ee3b3b","strokeWidth":1.5,"opacity":1},
 "encoding":{
  "x":{"field":"E","type":"quantitative","scale":{"domain":[28,39],"nice":false,"zero":false},"axis":null},
  "y":{"field":"S","type":"quantitative","scale":{"domain":[0,7],"nice":false,"zero":false},"axis":null}
 }},
{"data":{"name":"fast"},
 "mark":{"type":"rule","color":"#e3261b","strokeWidth":3,"strokeDash":[10,7]},
 "encoding":{
  "y":{"field":"S","type":"quantitative","scale":{"domain":[0,7],"nice":false,"zero":false},"axis":null}
 }},
{"data":{"name":"detected"},
 "mark":{"type":"circle","size":900,"color":"#0a6b0a","opacity":1,"stroke":"#063806","strokeWidth":1.2},
 "encoding":{
  "x":{"field":"E","type":"quantitative","scale":{"domain":[28,39],"nice":false,"zero":false},"axis":null},
  "y":{"field":"S","type":"quantitative","scale":{"domain":[0,7],"nice":false,"zero":false},"axis":null}
 }},
{"data":{"name":"legendItem"},
 "mark":{"type":"circle","size":900,"color":"#0a6b0a","opacity":1,"stroke":"#063806","strokeWidth":1.2},
 "encoding":{
  "x":{"datum":36.45,"type":"quantitative","scale":{"domain":[28,39],"nice":false,"zero":false},"axis":null},
  "y":{"datum":0.543,"type":"quantitative","scale":{"domain":[0,7],"nice":false,"zero":false},"axis":null}
 }},
{"data":{"name":"legendItem"},
 "mark":{"type":"text","font":"DejaVu Sans","fontSize":24,"color":"#222222","align":"left","baseline":"middle"},
 "encoding":{
  "text":{"field":"name","type":"nominal"},
  "x":{"datum":36.74,"type":"quantitative","scale":{"domain":[28,39],"nice":false,"zero":false},"axis":null},
  "y":{"datum":0.543,"type":"quantitative","scale":{"domain":[0,7],"nice":false,"zero":false},"axis":null}
 }},
{"data":{"name":"label"},
 "mark":{"type":"text","font":"Liberation Sans","fontWeight":"bold","fontSize":56,"color":"#e3261b","align":"left","baseline":"alphabetic"},
 "encoding":{
  "text":{"field":"name","type":"nominal"},
  "x":{"datum":28.15,"type":"quantitative","scale":{"domain":[28,39],"nice":false,"zero":false},"axis":null},
  "y":{"datum":0.29,"type":"quantitative","scale":{"domain":[0,7],"nice":false,"zero":false},"axis":null}
 }}
],
"resolve":{"axis":{"x":"independent","y":"independent"}}
}
